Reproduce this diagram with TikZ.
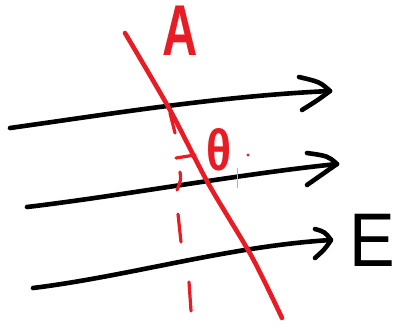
\documentclass[tikz,border=0pt]{standalone}
\usepackage{fontspec}
\setmainfont{Liberation Sans}
\definecolor{penred}{RGB}{232,28,36}
\begin{document}
\begin{tikzpicture}[x=1pt,y=-1pt,
  ink/.style={line width=4.6pt,line cap=round,line join=round},
  blackpen/.style={ink,black},
  redpen/.style={ink,penred},
  redthin/.style={line width=3.2pt,line cap=round,penred},
  lbl/.style={inner sep=0pt,anchor=center}]
\useasboundingbox (0,0) rectangle (399,327);
% field lines
\coordinate (s1) at (10,128); \coordinate (e1) at (330,91);
\coordinate (u1) at (299,77); \coordinate (d1) at (302,110);
\coordinate (s2) at (27,207); \coordinate (e2) at (337,164);
\coordinate (u2) at (307,153); \coordinate (d2) at (307,185);
\coordinate (s3) at (33,288); \coordinate (e3) at (331,240);
\coordinate (u3) at (315,229); \coordinate (d3) at (315,258);
\draw[blackpen] (s1) .. controls (110,114) and (220,96) .. (e1);
\draw[blackpen] (u1) .. controls (320,82) .. (e1) .. controls (318,100) .. (d1);
\draw[blackpen] (s2) .. controls (120,196) and (240,174) .. (e2);
\draw[blackpen] (u2) .. controls (328,156) .. (e2) .. controls (322,174) .. (d2);
\draw[blackpen] (s3) .. controls (130,276) and (230,246) .. (e3);
\draw[blackpen] (u3) .. controls (325,232) .. (e3) .. controls (325,249) .. (d3);
% plane A
\draw[redpen] plot[smooth] coordinates {(125,33) (170,110) (208,183) (252,257) (282,318)};
% dashed normal
\coordinate (n1a) at (170,113); \coordinate (n1b) at (175,133);
\coordinate (n2a) at (180,172); \coordinate (n2b) at (177,190);
\coordinate (n3a) at (178,214); \coordinate (n3b) at (181,242);
\coordinate (n4a) at (189,282); \coordinate (n4b) at (191,311);
\coordinate (h1) at (176,158); \coordinate (h2) at (195,155);
\draw[redthin] (n1a) -- (n1b);
\draw[redthin] (n2a) .. controls (181,180) .. (n2b);
\draw[redthin] (n3a) -- (n3b);
\draw[redthin] (n4a) -- (n4b);
\draw[redthin] (h1) -- (h2);
% labels
\node[lbl,text=penred,font=\bfseries\fontsize{72}{72}\selectfont] (A) at (180,31) {\scalebox{0.68}[1]{A}};
\node[lbl,text=penred,font=\bfseries\fontsize{58}{58}\selectfont] (th) at (219,150) {\scalebox{0.8}[1]{θ}};
\fill[penred] (248,155) circle (1.6pt);
\draw[gray!60,line width=1pt] (237,168) -- (237,188);
\node[lbl,font=\fontsize{76}{76}\selectfont] (E) at (372,240) {\scalebox{0.9}[1]{E}};
\end{tikzpicture}
\end{document}
